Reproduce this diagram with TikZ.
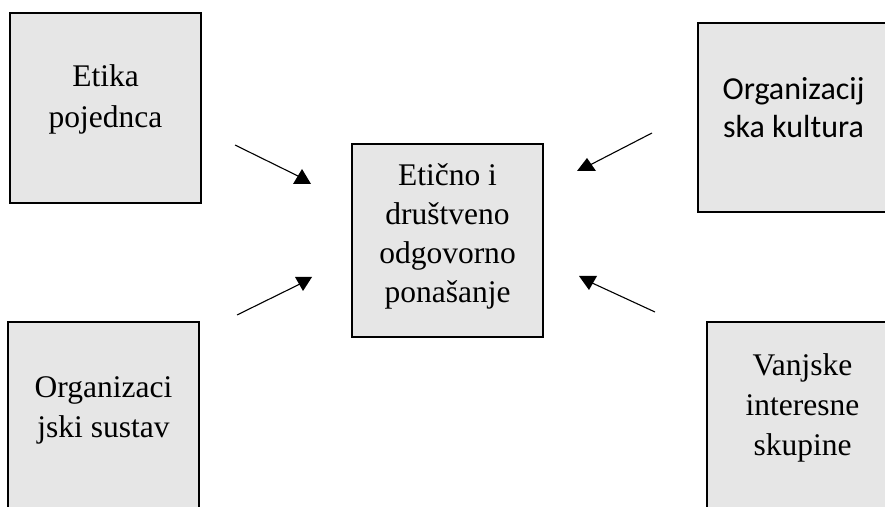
\documentclass[tikz,border=0pt]{standalone}
\usepackage{fontspec}
\setmainfont{Liberation Serif}
\newfontfamily\calibrifont{Carlito}
\definecolor{boxgray}{HTML}{E6E6E6}
\tikzset{
  boxnode/.style={draw=black, fill=boxgray, line width=2.2bp, minimum width=191bp, minimum height=190bp, inner sep=0pt, outer sep=0pt},
  txt/.style={anchor=base, inner sep=0pt, font=\fontsize{31.5bp}{38bp}\selectfont},
  ctxt/.style={anchor=base, inner sep=0pt, font=\calibrifont\fontsize{32bp}{38bp}\selectfont},
  conn/.style={draw=black, line width=1.1bp},
  tip/.style={fill=black}
}
\begin{document}
\begin{tikzpicture}[x=1bp, y=-1bp]
\clip (0,0) rectangle (885,507);
\fill[white] (0,0) rectangle (885,507);
% boxes
\node[boxnode, minimum height=190bp] (etika) at (105.5,108) {};
\node[boxnode, minimum height=193bp] (center) at (447.5,240.5) {};
\node[boxnode, minimum height=189bp] (kultura) at (793.5,117.5) {};
\node[boxnode, minimum height=200bp] (sustav) at (103.5,422) {};
\node[boxnode, minimum height=200bp] (vanjske) at (802.5,422) {};
% texts
\node[txt] (t1a) at (105.5,87) {Etika};
\node[txt] (t1b) at (105.5,128) {pojednca};
\node[txt] (t2a) at (447.5,186) {Etično i};
\node[txt] (t2b) at (447.5,225) {društveno};
\node[txt] (t2c) at (447.5,264) {odgovorno};
\node[txt] (t2d) at (447.5,303) {ponašanje};
\node[ctxt] (t3a) at (793.5,100) {Organizacij};
\node[ctxt] (t3b) at (793.5,138) {ska kultura};
\node[txt] (t4a) at (103.5,397) {Organizaci};
\node[txt] (t4b) at (103.5,437) {jski sustav};
\node[txt] (t5a) at (802.5,375) {Vanjske};
\node[txt] (t5b) at (802.5,415) {interesne};
\node[txt] (t5c) at (802.5,455) {skupine};
% connectors
\coordinate (tlS) at (235,145);
\coordinate (tlE) at (300,177);
\coordinate (blS) at (237,315);
\coordinate (blE) at (302,283);
\coordinate (trS) at (652,133);
\coordinate (trE) at (588,166);
\coordinate (brS) at (655,312);
\coordinate (brE) at (590,282);
\draw[conn] (tlS) -- (tlE);
\draw[conn] (blS) -- (blE);
\draw[conn] (trS) -- (trE);
\draw[conn] (brS) -- (brE);
\fill[tip] (tlE) +(2,-8) -- +(-7,7) -- +(11,7) -- cycle;
\fill[tip] (blE) +(-7,-6) -- +(10,-6) -- +(1,8) -- cycle;
\fill[tip] (trE) +(-1,-8) -- +(-11,5) -- +(8,5) -- cycle;
\fill[tip] (brE) +(-11,-6) -- +(7,-6) -- +(-1,8) -- cycle;
\end{tikzpicture}
\end{document}
